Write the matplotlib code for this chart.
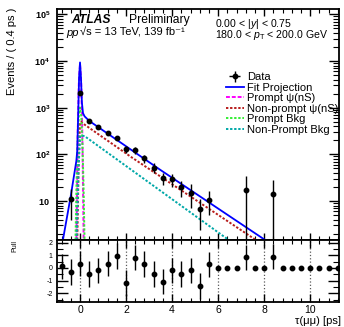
import numpy as np
import matplotlib
matplotlib.use("Agg")
import matplotlib.pyplot as plt
from matplotlib.ticker import MultipleLocator, LogLocator, NullFormatter

plt.rcParams['font.family'] = ['Liberation Sans', 'DejaVu Sans']
plt.rcParams['mathtext.fontset'] = 'custom'
plt.rcParams['mathtext.rm'] = 'Liberation Sans'
plt.rcParams['mathtext.it'] = 'Liberation Sans:italic'
plt.rcParams['mathtext.bf'] = 'Liberation Sans:bold'

# data points (bin centres in ps, events per 0.4 ps)
data_tau = [-0.8, -0.4, 0.0, 0.4, 0.8, 1.2, 1.6, 2.0, 2.4, 2.8, 3.2, 3.6,
            4.0, 4.4, 4.8, 5.2, 5.6, 7.2, 8.4]
data_events = [0.8, 11, 2050, 520, 378, 290, 226, 128, 124, 82, 52, 31,
               29, 19.6, 15, 6.7, 10.5, 17.2, 14.1]
data_err = [0.5, 7, 45, 35, 30, 27, 25, 22, 22, 17, 13, 9,
            9, 7.2, 8, 4.3, 5.6, 16.9, 13.9]

# fit components
fit_tau = [-0.75, -0.4, -0.16, -0.12, -0.08, -0.04, 0.0, 0.04, 0.08, 0.13, 0.2, 0.4, 3.5, 8.3]
fit_val = [1.4, 13, 72, 120, 700, 4500, 9300, 4500, 1300, 760, 650, 520, 46, 1.2]

prompt_tau = [-0.16, -0.1, -0.05, 0.0, 0.05, 0.1, 0.16]
prompt_val = [1.2, 290, 3600, 8500, 3600, 290, 1.2]

nonprompt_tau = [-0.12, -0.06, 0.0, 0.05, 0.15, 2.2, 7.9]
nonprompt_val = [1.2, 60, 480, 500, 450, 89, 1.2]

pbkg_tau = [-0.2, -0.15, -0.1, -0.05, 0.0, 0.05, 0.1, 0.15, 0.2]
pbkg_val = [1.2, 25, 195, 670, 1000, 670, 195, 25, 1.2]

npbkg_tau = [-0.15, -0.07, 0.0, 0.05, 0.2, 6.7]
npbkg_val = [1.2, 40, 240, 255, 245, 1.2]

# pull panel
pull_tau = [-0.8, -0.4, 0.0, 0.4, 0.8, 1.2, 1.6, 2.0, 2.4, 2.8, 3.2, 3.6, 4.0,
            4.4, 4.8, 5.2, 5.6, 6.0, 6.4, 6.8, 7.2, 7.6, 8.0, 8.4, 8.8, 9.2,
            9.6, 10.0, 10.4, 10.8, 11.2]
pull_val = [0.13, -0.31, 0.34, -0.47, -0.2, 0.34, 0.94, -1.2, 0.8, 0.3, -0.47,
            -1.07, -0.18, -0.47, -0.18, -1.43, 0.29, 0, 0, 0, 0.83, 0, 0, 0.9,
            0, 0, 0, 0, 0, 0, 0]
pull_err = [1, 1, 1, 1, 1, 1, 1, 1, 1, 1, 1, 1, 1, 1, 1, 1, 1, 0, 0, 0, 1, 0, 0, 1,
            0, 0, 0, 0, 0, 0, 0]

ytick_vals = [10, 1e2, 1e3, 1e4, 1e5]
ytick_labels = ['$\\mathbf{10}$', '$\\mathbf{10^{2}}$', '$\\mathbf{10^{3}}$',
                '$\\mathbf{10^{4}}$', '$\\mathbf{10^{5}}$']
pull_ticks = [-2, -1, 0, 1, 2]
pull_labels = ['-2', '-1', '0', '1', '2']

W, H = 344, 327
fig = plt.figure(figsize=(W / 100, H / 100), dpi=100)
left, right = 57, 339
ax = fig.add_axes([left / W, 1 - 240 / H, (right - left) / W, 231 / H])
axp = fig.add_axes([left / W, 1 - 302 / H, (right - left) / W, 62 / H])

# main panel
ax.plot(fit_tau, fit_val, color='#0000ff', lw=1.3, label='Fit Projection', zorder=4)
ax.plot(prompt_tau, prompt_val, color='#ff00ff', lw=1.4, dashes=(2, 1),
        label='Prompt \u03c8(nS)', zorder=3)
ax.plot(nonprompt_tau, nonprompt_val, color='#b81c1c', lw=1.4, dashes=(1.2, 0.9),
        label='Non-prompt \u03c8(nS)', zorder=3)
ax.plot(pbkg_tau, pbkg_val, color='#33ee33', lw=1.4, dashes=(1.2, 0.9),
        label='Prompt Bkg', zorder=3)
ax.plot(npbkg_tau, npbkg_val, color='#00a8a8', lw=1.4, dashes=(1.2, 0.9),
        label='Non-Prompt Bkg', zorder=3)
ax.errorbar(data_tau, data_events, yerr=data_err, xerr=0, fmt='o', color='black',
            ms=3.2, elinewidth=1, capsize=0, label='Data', zorder=5)

ax.set_yscale('log')
ax.set_xlim(-1, 11.25)
ax.set_ylim(1.46, 1.3e5)
ax.set_yticks(ytick_vals)
ax.set_yticklabels(ytick_labels)
ax.yaxis.set_minor_locator(LogLocator(base=10, subs=np.arange(2, 10)))
ax.yaxis.set_minor_formatter(NullFormatter())
ax.xaxis.set_major_locator(MultipleLocator(2))
ax.xaxis.set_minor_locator(MultipleLocator(0.4))
ax.tick_params(axis='both', which='both', direction='in', top=True, right=True)
ax.tick_params(axis='y', which='major', length=7, width=1, labelsize=6.5, pad=5)
ax.tick_params(axis='y', which='minor', length=4, width=0.8)
ax.tick_params(axis='x', which='major', length=5, width=1, labelbottom=False)
ax.tick_params(axis='x', which='minor', length=3, width=0.8)
for s in ax.spines.values():
    s.set_linewidth(1.3)

handles, labels = ax.get_legend_handles_labels()
order = [labels.index(n) for n in ['Data', 'Fit Projection', 'Prompt \u03c8(nS)',
                                     'Non-prompt \u03c8(nS)', 'Prompt Bkg', 'Non-Prompt Bkg']]
fig.legend([handles[i] for i in order], [labels[i] for i in order],
           loc='upper left', bbox_to_anchor=(226 / W, 1 - 72 / H), frameon=False,
           fontsize=8, handlelength=1.6, handletextpad=0.3, labelspacing=0.05,
           borderpad=0, borderaxespad=0)

fig.text(71 / W, 1 - 23 / H, 'ATLAS', fontsize=8.7, fontweight='bold', style='italic')
fig.text(129 / W, 1 - 23 / H, 'Preliminary', fontsize=8.7)
fig.text(66 / W, 1 - 35.5 / H, 'pp', fontsize=8, style='italic')
fig.text(80 / W, 1 - 35.5 / H, '\u221as = 13 TeV, 139 fb\u207b\u00b9', fontsize=8)
fig.text(215 / W, 1 - 17 / H,
         '0.00 < |$y$| < 0.75\n180.0 < $p_{\\mathrm{T}}$ < 200.0 GeV',
         fontsize=7.6, va='top', linespacing=0.72)

fig.text(12 / W, 1 - 8 / H, 'Events / ( 0.4 ps )', rotation=90, ha='center', va='top',
         fontsize=8)

# pull panel
axp.errorbar(pull_tau, pull_val, yerr=pull_err, fmt='o', color='black', ms=3.2,
             elinewidth=1, capsize=0, zorder=5)
axp.set_xlim(-1, 11.25)
axp.set_ylim(-2.68, 2.2)
axp.set_yticks(pull_ticks)
axp.set_yticklabels(pull_labels)
axp.yaxis.set_minor_locator(MultipleLocator(0.5))
axp.xaxis.set_major_locator(MultipleLocator(2))
axp.xaxis.set_minor_locator(MultipleLocator(0.4))
axp.grid(axis='x', which='major', linestyle=':', color='0.35', lw=0.9)
axp.tick_params(axis='both', which='both', direction='in', top=True, right=True)
axp.tick_params(axis='y', which='major', length=8, width=1, labelsize=5, pad=3)
axp.tick_params(axis='y', which='minor', length=4, width=0.8)
axp.tick_params(axis='x', which='major', length=6, width=1, labelsize=7.5, pad=2)
axp.tick_params(axis='x', which='minor', length=3, width=0.8)
for s in axp.spines.values():
    s.set_linewidth(1.3)

fig.text(15 / W, 1 - 240 / H, 'Pull', rotation=90, ha='center', va='top', fontsize=5)
fig.text(341 / W, 1 - 321 / H, '\u03c4(\u03bc\u03bc) [ps]', ha='right', va='center', fontsize=8)

fig.savefig('out.png', dpi=100)
